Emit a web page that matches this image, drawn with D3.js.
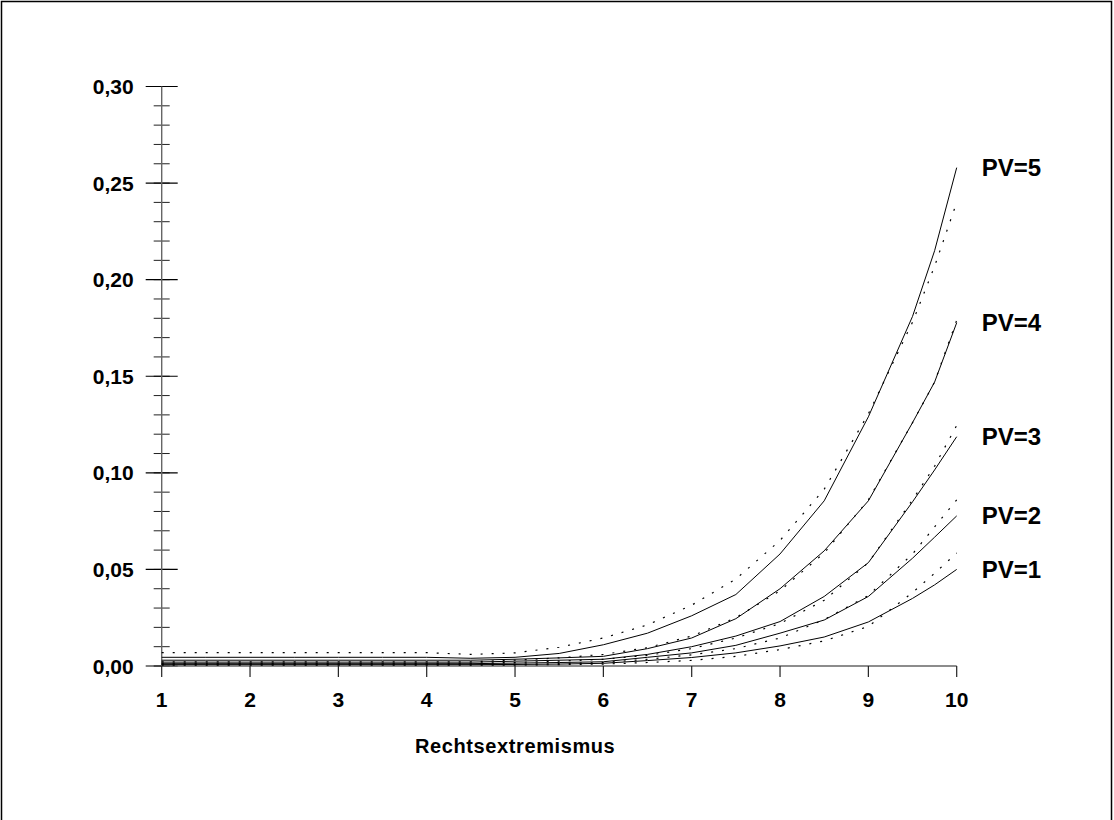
<!DOCTYPE html>
<html>
<head>
<meta charset="utf-8">
<script src="https://cdn.jsdelivr.net/npm/d3@7"></script>
<style>
  html, body { margin: 0; padding: 0; background: #fff; }
  svg { display: block; }
  text { font-family: "Liberation Sans", Arial, Helvetica, sans-serif; fill: #000; }
</style>
</head>
<body>
<svg id="chart" width="1114" height="820"></svg>
<script>
// ---- data ----
const xValues = [1, 1.5, 2, 2.5, 3, 3.5, 4, 4.5, 5, 5.5, 6, 6.5, 7, 7.5, 8, 8.5, 9, 9.5, 9.75, 10];
const seriesNames = ["PV=1", "PV=2", "PV=3", "PV=4", "PV=5"];

const solidPV1 = [0.0007, 0.0007, 0.0007, 0.0007, 0.0007, 0.0007, 0.0007, 0.0007, 0.0008, 0.0010, 0.0014, 0.0028, 0.0044, 0.0068, 0.0104, 0.0150, 0.0228, 0.0350, 0.0420, 0.0500];
const solidPV2 = [0.0012, 0.0012, 0.0012, 0.0012, 0.0012, 0.0012, 0.0012, 0.0012, 0.0015, 0.0018, 0.0022, 0.0045, 0.0068, 0.0107, 0.0170, 0.0238, 0.0360, 0.0558, 0.0667, 0.0777];
const solidPV3 = [0.0020, 0.0020, 0.0020, 0.0020, 0.0020, 0.0020, 0.0020, 0.0020, 0.0025, 0.0030, 0.0035, 0.0060, 0.0100, 0.0155, 0.0230, 0.0360, 0.0535, 0.0850, 0.1015, 0.1187];
const solidPV4 = [0.0030, 0.0030, 0.0030, 0.0030, 0.0030, 0.0030, 0.0030, 0.0030, 0.0035, 0.0042, 0.0050, 0.0090, 0.0145, 0.0245, 0.0400, 0.0596, 0.0855, 0.1260, 0.1470, 0.1777];
const solidPV5 = [0.0045, 0.0045, 0.0045, 0.0045, 0.0045, 0.0045, 0.0045, 0.0040, 0.0045, 0.0065, 0.0110, 0.0170, 0.0260, 0.0370, 0.0580, 0.0855, 0.1290, 0.1810, 0.2150, 0.2580];

const dottedPV1 = [0.0005, 0.0005, 0.0005, 0.0005, 0.0005, 0.0005, 0.0005, 0.0005, 0.0005, 0.0007, 0.0010, 0.0018, 0.0029, 0.0050, 0.0085, 0.0130, 0.0205, 0.0380, 0.0480, 0.0585];
const dottedPV2 = [0.0010, 0.0010, 0.0010, 0.0010, 0.0010, 0.0010, 0.0010, 0.0010, 0.0010, 0.0012, 0.0018, 0.0035, 0.0058, 0.0090, 0.0145, 0.0240, 0.0365, 0.0580, 0.0720, 0.0860];
const dottedPV3 = [0.0015, 0.0015, 0.0015, 0.0015, 0.0015, 0.0015, 0.0015, 0.0015, 0.0018, 0.0025, 0.0035, 0.0055, 0.0090, 0.0145, 0.0220, 0.0340, 0.0535, 0.0860, 0.1035, 0.1245];
const dottedPV4 = [0.0022, 0.0022, 0.0022, 0.0022, 0.0022, 0.0022, 0.0022, 0.0022, 0.0030, 0.0042, 0.0060, 0.0095, 0.0155, 0.0250, 0.0390, 0.0585, 0.0860, 0.1260, 0.1470, 0.1790];
const dottedPV5 = [0.0069, 0.0069, 0.0069, 0.0069, 0.0069, 0.0069, 0.0069, 0.0060, 0.0068, 0.0097, 0.0145, 0.0213, 0.0315, 0.0450, 0.0650, 0.0915, 0.1305, 0.1780, 0.2070, 0.2400];

const xTickValues = [1, 2, 3, 4, 5, 6, 7, 8, 9, 10];
const xTickLabels = ["1", "2", "3", "4", "5", "6", "7", "8", "9", "10"];
const yMajorValues = [0, 0.05, 0.10, 0.15, 0.20, 0.25, 0.30];
const yTickLabels = ["0,00", "0,05", "0,10", "0,15", "0,20", "0,25", "0,30"];
const xAxisTitle = "Rechtsextremismus";

const solidSeries = [solidPV1, solidPV2, solidPV3, solidPV4, solidPV5];
const dottedSeries = [dottedPV1, dottedPV2, dottedPV3, dottedPV4, dottedPV5];

// ---- drawing ----
const svg = d3.select("#chart");

// frame
svg.append("rect")
  .attr("x", 1.5).attr("y", 1.5)
  .attr("width", 1110).attr("height", 900)
  .attr("fill", "none").attr("stroke", "#000").attr("stroke-width", 1.5);

const x = d3.scaleLinear().domain([1, 10]).range([161.7, 956.7]);
const y = d3.scaleLinear().domain([0, 0.3]).range([666, 86.5]);

// y axis: minor ticks every 0.01, major every 0.05 (both sides of the line)
const yMinor = d3.range(0, 31).map(i => i / 100);
const gy = svg.append("g");
gy.selectAll("line.minor").data(yMinor).join("line")
  .attr("x1", x(1) - 8).attr("x2", x(1) + 8)
  .attr("y1", d => y(d)).attr("y2", d => y(d))
  .attr("stroke", "#222").attr("stroke-width", 1);
gy.selectAll("line.major").data(yMajorValues).join("line")
  .attr("x1", x(1) - 16).attr("x2", x(1) + 16)
  .attr("y1", d => y(d)).attr("y2", d => y(d))
  .attr("stroke", "#000").attr("stroke-width", 1.2);
gy.append("line")
  .attr("x1", x(1)).attr("x2", x(1))
  .attr("y1", y(0.3)).attr("y2", y(0))
  .attr("stroke", "#666").attr("stroke-width", 1.4);
gy.selectAll("text").data(yMajorValues).join("text")
  .attr("x", x(1) - 28).attr("y", d => y(d))
  .attr("text-anchor", "end").attr("dominant-baseline", "central")
  .attr("font-size", 21).attr("font-weight", "bold")
  .text((d, i) => yTickLabels[i]);

// x axis
const gx = svg.append("g");
gx.append("line")
  .attr("x1", x(1)).attr("x2", x(10))
  .attr("y1", y(0)).attr("y2", y(0))
  .attr("stroke", "#666").attr("stroke-width", 1.4);
gx.selectAll("line.tick").data(xTickValues).join("line")
  .attr("x1", d => x(d)).attr("x2", d => x(d))
  .attr("y1", y(0)).attr("y2", y(0) + 11)
  .attr("stroke", "#222").attr("stroke-width", 1.2);
gx.selectAll("text").data(xTickValues).join("text")
  .attr("x", d => x(d)).attr("y", y(0) + 33)
  .attr("text-anchor", "middle").attr("dominant-baseline", "central")
  .attr("font-size", 21).attr("font-weight", "bold")
  .text((d, i) => xTickLabels[i]);

svg.append("text")
  .attr("x", (x(1) + x(10)) / 2 - 44).attr("y", y(0) + 80)
  .attr("text-anchor", "middle").attr("dominant-baseline", "central")
  .attr("font-size", 20).attr("font-weight", "bold").attr("letter-spacing", 0.6)
  .text(xAxisTitle);

// curves
const line = d3.line().x((d, i) => x(xValues[i])).y(d => y(d));
const gl = svg.append("g").attr("fill", "none");
gl.selectAll("path.dotted").data(dottedSeries).join("path")
  .attr("d", line)
  .attr("stroke", "#000").attr("stroke-width", 1.2)
  .attr("stroke-dasharray", "2,9");
gl.selectAll("path.solid").data(solidSeries).join("path")
  .attr("d", line)
  .attr("stroke", "#000").attr("stroke-width", 1);

// series labels
svg.selectAll("text.pv").data(seriesNames).join("text")
  .attr("class", "pv")
  .attr("x", x(10) + 25)
  .attr("y", (d, i) => y(solidSeries[i][solidSeries[i].length - 1]))
  .attr("dominant-baseline", "central")
  .attr("font-size", 24).attr("font-weight", "bold")
  .text(d => d);
</script>
</body>
</html>
